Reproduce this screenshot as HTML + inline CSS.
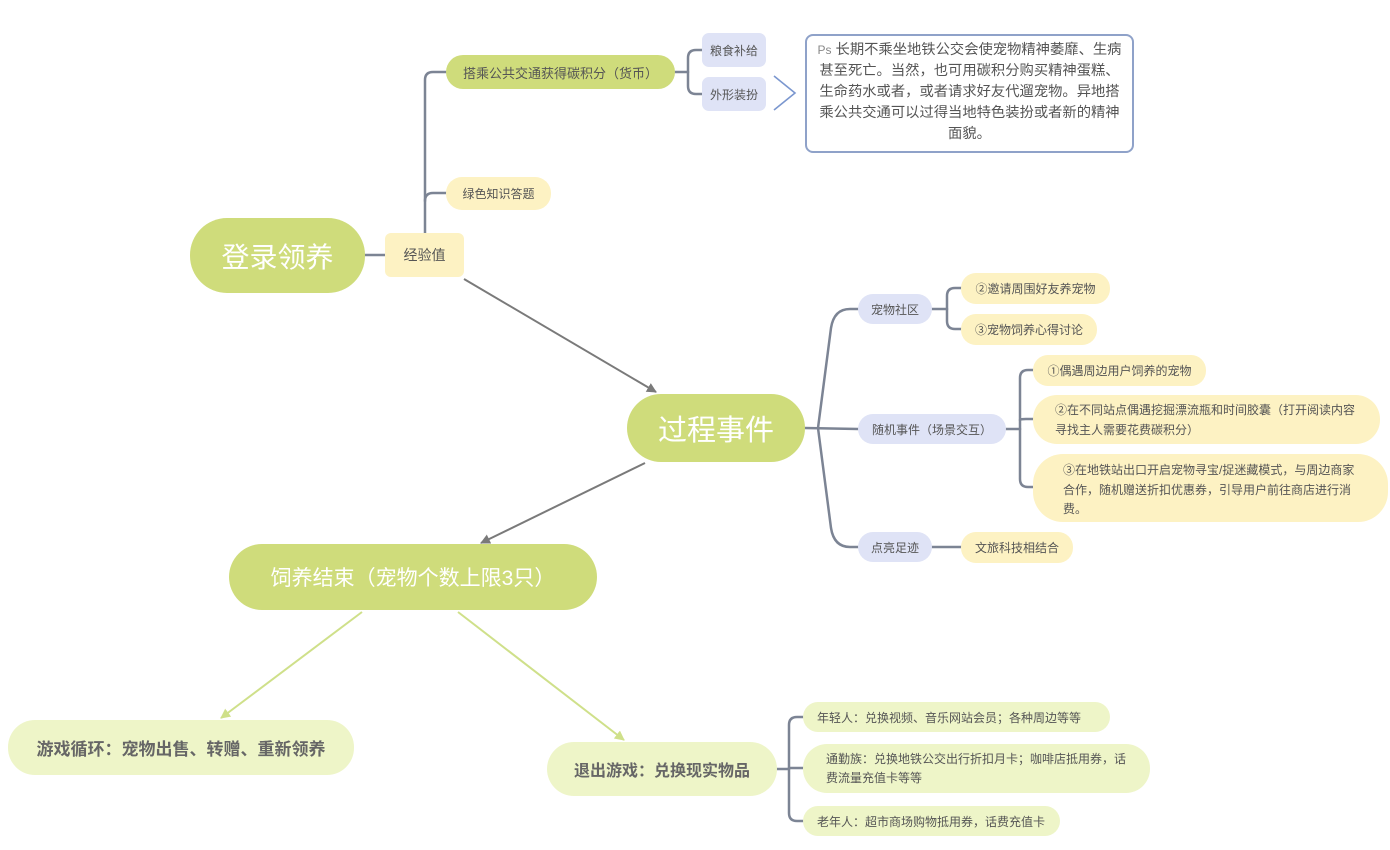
<!DOCTYPE html>
<html>
<head>
<meta charset="utf-8">
<style>
  html,body{margin:0;padding:0;background:#fff;}
  body{width:1390px;height:850px;position:relative;overflow:hidden;
    font-family:"Liberation Sans","Noto Sans CJK SC",sans-serif;color:#555;}
  .n{position:absolute;box-sizing:border-box;display:flex;align-items:center;justify-content:center;white-space:nowrap;}
  .g{background:#cfdc7b;}
  .y{background:#fdf2c3;}
  .l{background:#dfe3f6;}
  .lg{background:#eef5c8;}
  .t{position:absolute;white-space:nowrap;}
  svg{position:absolute;left:0;top:0;}
</style>
</head>
<body>
<svg width="1390" height="850" viewBox="0 0 1390 850">
  <defs>
    <marker id="ag" markerWidth="10" markerHeight="10" refX="9" refY="5" orient="auto" markerUnits="userSpaceOnUse">
      <path d="M0,0 L10,5 L0,10 z" fill="#7a7a7a"/>
    </marker>
    <marker id="agr" markerWidth="10" markerHeight="10" refX="9" refY="5" orient="auto" markerUnits="userSpaceOnUse">
      <path d="M0,0 L10,5 L0,10 z" fill="#cfe08a"/>
    </marker>
  </defs>
  <g fill="none" stroke="#7c8494" stroke-width="2.5" stroke-linecap="round">
    <path d="M365,255 L385,255"/>
    <path d="M425,233 L425,80 Q425,72 433,72 L446,72"/>
    <path d="M425,201 Q425,193 433,193 L446,193"/>
    <path d="M675,72 L688,72"/>
    <path d="M702,50 L696,50 Q688,50 688,58 L688,86 Q688,94 696,94 L702,94"/>
    <path d="M805,428 L858,429"/>
    <path d="M818,428 L831,328 Q834,309 850,309 L858,309"/>
    <path d="M818,428 L831,528 Q834,547 850,547 L858,547"/>
    <path d="M932,309 L947,309"/>
    <path d="M961,288 L955,288 Q947,288 947,296 L947,321 Q947,329 955,329 L961,329"/>
    <path d="M1006,429 L1020,429"/>
    <path d="M1033,370 L1028,370 Q1020,370 1020,378 L1020,479 Q1020,487 1028,487 L1033,487"/>
    <path d="M1020,420 Q1020,419 1026,419 L1033,419"/>
    <path d="M932,547 L961,547"/>
    <path d="M777,769 L789,769"/>
    <path d="M803,717 L797,717 Q789,717 789,725 L789,813 Q789,821 797,821 L803,821"/>
    <path d="M789,768 L803,768"/>
  </g>
  <polyline points="774,76 795,93 774,110" fill="none" stroke="#7b97cf" stroke-width="1.6"/>
  <line x1="464" y1="279" x2="656" y2="392" stroke="#7a7a7a" stroke-width="2" marker-end="url(#ag)"/>
  <line x1="645" y1="463" x2="481" y2="543" stroke="#7a7a7a" stroke-width="2" marker-end="url(#ag)"/>
  <line x1="362" y1="612" x2="221" y2="718" stroke="#cfe08a" stroke-width="2" marker-end="url(#agr)"/>
  <line x1="458" y1="612" x2="624" y2="740" stroke="#cfe08a" stroke-width="2" marker-end="url(#agr)"/>
</svg>

<div class="n g" style="left:190px;top:218px;width:175px;height:75px;border-radius:37px;color:#fff;font-size:28px;">登录领养</div>
<div class="n y" style="left:385px;top:233px;width:79px;height:44px;border-radius:6px;font-size:14px;">经验值</div>
<div class="n g" style="left:446px;top:55px;width:229px;height:34px;border-radius:17px;font-size:13px;">搭乘公共交通获得碳积分（货币）</div>
<div class="n y" style="left:446px;top:177px;width:105px;height:33px;border-radius:16px;font-size:12px;">绿色知识答题</div>
<div class="n l" style="left:702px;top:33px;width:64px;height:34px;border-radius:7px;font-size:12px;">粮食补给</div>
<div class="n l" style="left:702px;top:77px;width:64px;height:34px;border-radius:7px;font-size:12px;">外形装扮</div>

<div style="position:absolute;left:805px;top:34px;width:329px;height:119px;box-sizing:border-box;border:2px solid #8fa2c9;border-radius:8px;"></div>
<div class="t" style="left:805px;top:40px;width:329px;text-align:center;font-size:14.3px;line-height:21px;color:#555;">
<span style="font-size:12px;color:#888;">Ps</span> 长期不乘坐地铁公交会使宠物精神萎靡、生病<br>甚至死亡。当然，也可用碳积分购买精神蛋糕、<br>生命药水或者，或者请求好友代遛宠物。异地搭<br>乘公共交通可以过得当地特色装扮或者新的精神<br>面貌。</div>

<div class="n g" style="left:627px;top:394px;width:178px;height:68px;border-radius:34px;color:#fff;font-size:29px;">过程事件</div>
<div class="n l" style="left:858px;top:294px;width:74px;height:30px;border-radius:15px;font-size:12px;">宠物社区</div>
<div class="n l" style="left:858px;top:414px;width:148px;height:30px;border-radius:15px;font-size:12px;">随机事件（场景交互）</div>
<div class="n l" style="left:858px;top:532px;width:74px;height:30px;border-radius:15px;font-size:12px;">点亮足迹</div>
<div class="n y" style="left:961px;top:273px;width:149px;height:31px;border-radius:15px;font-size:12px;">②邀请周围好友养宠物</div>
<div class="n y" style="left:961px;top:314px;width:136px;height:31px;border-radius:15px;font-size:12px;">③宠物饲养心得讨论</div>
<div class="n y" style="left:1033px;top:355px;width:173px;height:31px;border-radius:15px;font-size:12px;">①偶遇周边用户饲养的宠物</div>
<div class="n y" style="left:1033px;top:395px;width:347px;height:49px;border-radius:24px;"></div>
<div class="t" style="left:1055px;top:400px;font-size:12px;line-height:20px;">②在不同站点偶遇挖掘漂流瓶和时间胶囊（打开阅读内容<br>寻找主人需要花费碳积分）</div>
<div class="n y" style="left:1033px;top:454px;width:355px;height:68px;border-radius:30px;"></div>
<div class="t" style="left:1063px;top:461px;font-size:12px;line-height:19.5px;">③在地铁站出口开启宠物寻宝/捉迷藏模式，与周边商家<br>合作，随机赠送折扣优惠券，引导用户前往商店进行消<br>费。</div>
<div class="n y" style="left:961px;top:532px;width:112px;height:31px;border-radius:15px;font-size:12px;">文旅科技相结合</div>

<div class="n g" style="left:229px;top:544px;width:368px;height:66px;border-radius:33px;color:#fff;font-size:21px;">饲养结束（宠物个数上限3只）</div>
<div class="n lg" style="left:8px;top:720px;width:346px;height:55px;border-radius:27px;font-size:17px;color:#666;font-weight:bold;">游戏循环：宠物出售、转赠、重新领养</div>
<div class="n lg" style="left:547px;top:742px;width:230px;height:54px;border-radius:27px;font-size:16px;color:#666;font-weight:bold;">退出游戏：兑换现实物品</div>
<div class="n lg" style="left:803px;top:702px;width:307px;height:30px;border-radius:15px;font-size:12px;justify-content:flex-start;padding-left:14px;">年轻人：兑换视频、音乐网站会员；各种周边等等</div>
<div class="n lg" style="left:803px;top:744px;width:347px;height:49px;border-radius:24px;"></div>
<div class="t" style="left:826px;top:750px;font-size:12px;line-height:19px;">通勤族：兑换地铁公交出行折扣月卡；咖啡店抵用券，话<br>费流量充值卡等等</div>
<div class="n lg" style="left:803px;top:806px;width:257px;height:30px;border-radius:15px;font-size:12px;justify-content:flex-start;padding-left:14px;">老年人：超市商场购物抵用券，话费充值卡</div>
</body>
</html>
